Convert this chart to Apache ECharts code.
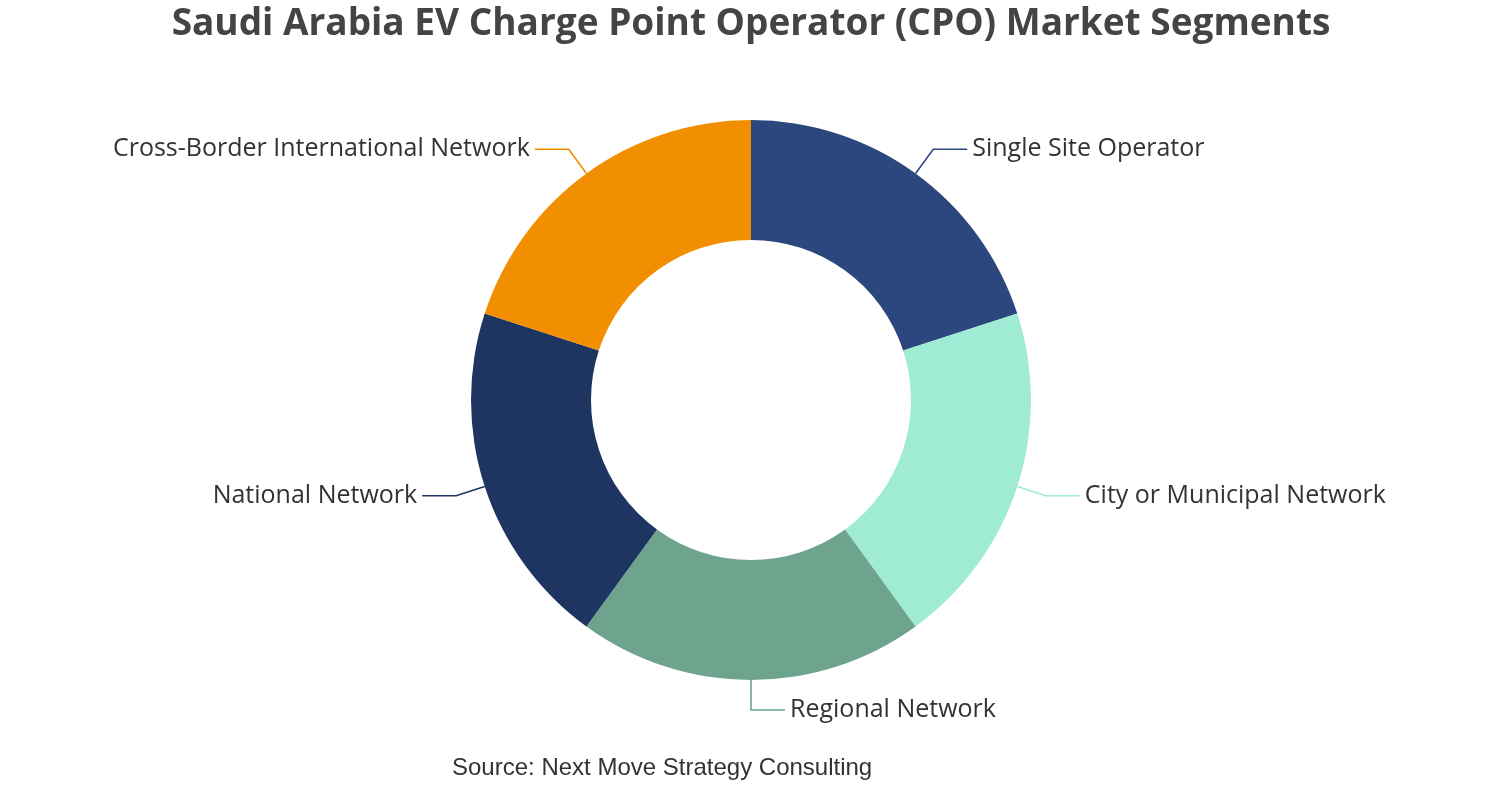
<!DOCTYPE html>
<html>
<head>
    <meta charset="utf-8">
    <script type="text/javascript" src="https://cdn.jsdelivr.net/npm/echarts@6/dist/echarts.min.js"></script>
    <title>Saudi Arabia EV CPO Market Segments</title>
    <style>
        html, body { margin: 0; padding: 0; background: #fff; }
        #main { width: 1502px; height: 800px; }
    </style>
</head>
<body>
<div id="main"></div>
<script type="text/javascript">
    var segments = ['Single Site Operator', 'City or Municipal Network', 'Regional Network', 'National Network', 'Cross-Border International Network'];
    var shares = [20, 20, 20, 20, 20];
    var colors = ['#2B477D', '#A0EBD3', '#6EA38E', '#1E3461', '#F28F00'];

    var pieData = [];
    for (var i = 0; i < segments.length; i++) {
        pieData.push({name: segments[i], value: shares[i], itemStyle: {color: colors[i]}, labelLine: {lineStyle: {color: colors[i], width: 1.6}}});
    }

    var myChart = echarts.init(document.getElementById('main'));
    var option = {
        title: [{
            text: 'Saudi Arabia EV Charge Point Operator (CPO) Market Segments',
            left: 'center',
            top: 1,
            textStyle: {fontFamily: 'Open Sans', fontSize: 37, fontWeight: 'bold', color: '#444'}
        }, {
            text: 'Source: Next Move Strategy Consulting',
            left: 447,
            top: 751,
            textStyle: {fontFamily: 'Liberation Sans', fontSize: 24, fontWeight: 'normal', color: '#333'}
        }],
        series: [{
            type: 'pie',
            center: ['50%', '50%'],
            radius: ['40%', '70%'],
            startAngle: 90,
            clockwise: true,
            label: {
                show: true,
                fontFamily: 'Open Sans',
                fontSize: 25,
                color: '#333'
            },
            labelLine: {length: 30, length2: 34},
            data: pieData
        }]
    };
    myChart.setOption(option);
</script>
</body>
</html>
